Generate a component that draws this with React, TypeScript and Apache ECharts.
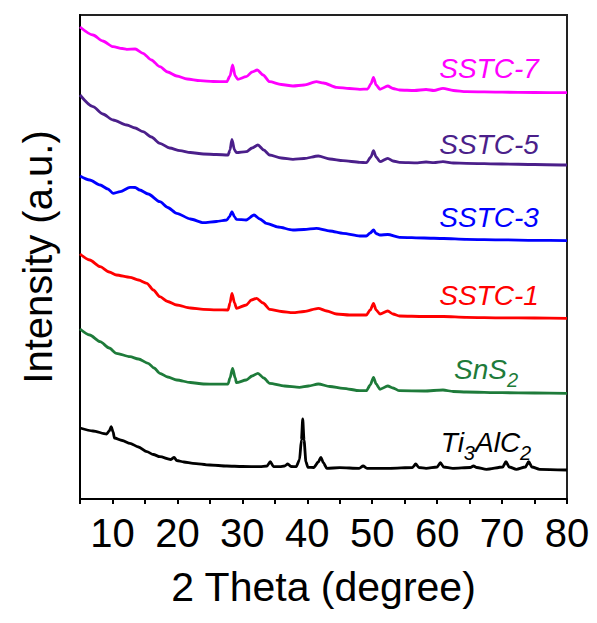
import React, { useEffect, useRef } from 'react';
import * as echarts from 'echarts';

// 2θ (degree) vs intensity (a.u., already stacked with offsets as drawn)
const sstc7: number[][] = [
  [5.0, 472], [7.0, 464], [8.5, 458], [10.1, 452.3], [11.5, 450.5], [12.2, 449.7], [13.5, 450], [14.7, 445.7],
  [16.0, 439], [17.3, 432.3], [18.5, 427], [19.9, 423], [21.5, 420], [23.5, 418.3], [25.5, 417.5], [27.6, 417.3],
  [28.1, 423], [28.5, 434], [28.9, 423], [29.3, 419.7], [30.6, 422.3], [31.5, 427], [32.3, 429], [33.2, 424],
  [34.2, 417.3], [36.0, 414.5], [37.8, 413], [39.5, 414], [41.4, 417.3], [42.5, 416], [44.5, 411.7], [46.5, 410.5],
  [48.1, 409.7], [49.3, 410], [49.8, 415], [50.2, 421.7], [50.6, 414], [51.2, 409.7], [52.4, 413], [53.2, 410.5],
  [54.2, 409], [56.5, 408.5], [58.3, 409.5], [59.5, 408.5], [60.9, 410.7], [62.5, 408.5], [64.5, 407.3],
  [70, 406.8], [75, 406.5], [80, 406.3],
];
const sstc5: number[][] = [
  [5.0, 404], [7.0, 392.3], [8.5, 385], [10.1, 379], [12.2, 374], [13.5, 371], [14.7, 367.3], [16.0, 362],
  [17.3, 355.7], [18.8, 351], [20.4, 348.3], [22, 346.5], [24, 345], [26, 344.5], [27.8, 344], [28.1, 349],
  [28.4, 359.7], [28.8, 349], [29.1, 346.3], [30.6, 347.3], [31.5, 351], [32.4, 354], [33.3, 349], [34.2, 344],
  [36, 341], [37.8, 339.7], [39.5, 340.5], [41.7, 343], [43.5, 340], [45.5, 338.3], [48.1, 336.7], [49.1, 336.3],
  [49.8, 342], [50.2, 348.3], [50.6, 342], [51.2, 337.3], [52.4, 340.7], [53.2, 338], [54.2, 336.7], [57, 336.2],
  [58.3, 337], [59.5, 336.3], [60.9, 337.3], [62.5, 336], [64.5, 335.7], [70, 335], [75, 334.5], [80, 334],
];
const sstc3: number[][] = [
  [5.0, 323], [6.5, 319], [8.1, 314], [9.3, 310], [10.1, 305.7], [11.2, 307.3], [12.7, 311.7], [13.5, 311.5],
  [14.2, 309], [15.5, 305], [17.3, 297.3], [18.5, 291.5], [19.9, 285.7], [22, 280], [24, 276.3], [26, 277.5],
  [27.6, 279], [28.0, 282], [28.4, 287.3], [28.8, 282], [29.1, 279.7], [30.6, 279], [31.8, 284], [32.7, 280],
  [33.7, 275.7], [35.5, 272], [37.8, 269], [39.5, 269.5], [41.4, 270.7], [43.5, 268], [45.5, 265.7], [48.1, 263],
  [49.1, 263], [49.7, 266], [50.2, 269], [50.6, 265.5], [51.2, 264], [52.4, 264.5], [54.2, 261.7], [58, 261],
  [61, 260.5], [64.5, 259.7], [70, 259.2], [75, 258.7], [80, 258.3],
];
const sstc1: number[][] = [
  [5.0, 245], [6.5, 239], [8.1, 232.3], [9.5, 227], [10.6, 224], [12.7, 221.7], [14.0, 219], [15.3, 215.7],
  [16.3, 209], [17.3, 202.3], [18.5, 197.5], [19.9, 194], [22, 191], [24, 189.7], [26, 189.2], [27.8, 189],
  [28.1, 196], [28.4, 205.7], [28.8, 196], [29.1, 190.7], [30.6, 194], [31.4, 199], [32.2, 200.7], [33.2, 196],
  [34.2, 189.7], [36, 187.5], [37.8, 186.3], [39.5, 187.5], [41.7, 190.7], [43, 188], [44.5, 185], [46.5, 184],
  [49.1, 184], [49.7, 189], [50.2, 195.7], [50.6, 189], [51.2, 185], [52.4, 188], [53.2, 185], [54.2, 183],
  [58, 182.5], [61, 182.5], [64.5, 181.7], [70, 181.2], [75, 181], [80, 180.7],
];
const sns2: number[][] = [
  [5.0, 170], [6.5, 164], [8.1, 157.3], [9.5, 151], [10.6, 145.7], [12.7, 142.3], [14.0, 140], [15.5, 135.7],
  [16.4, 131], [17.3, 125.7], [18.5, 122], [19.9, 119], [22, 116.5], [24, 115], [26, 114.8], [27.8, 115],
  [28.1, 121], [28.5, 130.7], [28.9, 121], [29.1, 116.3], [30.6, 119], [31.5, 123], [32.4, 125.7], [33.3, 121],
  [34.2, 115.7], [36.5, 113], [38.8, 111.7], [40.2, 113], [41.7, 115], [43.5, 112.5], [45.5, 110.7], [48.1, 108.3],
  [49.1, 108.3], [49.7, 114], [50.2, 121.7], [50.6, 115], [51.2, 109.7], [52.4, 113], [53.2, 111], [54.2, 108.3],
  [58, 108], [60.9, 109], [62.5, 107.5], [64.5, 107], [70, 106.3], [75, 106], [80, 105.7],
];
const ti3alc2: number[][] = [
  [5.0, 71], [7.0, 68], [9.1, 65], [9.5, 68], [9.8, 72.3], [10.1, 67], [10.3, 61], [11.5, 58.5], [12.7, 55.7],
  [14.0, 52], [15.3, 47.3], [16.3, 44.5], [17.3, 42.3], [19.0, 39.5], [19.5, 41.7], [19.9, 38.5], [21, 37],
  [22.4, 35.7], [25, 34], [27.6, 33], [30, 32.5], [32.7, 32.3], [33.8, 33], [34.3, 37.3], [34.8, 32.5],
  [35.8, 32.3], [36.5, 33], [37.0, 35], [37.5, 32.5], [38.3, 32.3], [38.8, 39], [39.1, 59], [39.3, 80],
  [39.5, 59], [39.8, 37], [40.1, 31.7], [41.0, 31.5], [41.7, 37], [42.1, 41.7], [42.5, 36], [43.0, 30.7],
  [45, 31.3], [48.0, 30.7], [48.6, 33], [49.2, 30.7], [52.7, 30.7], [56.2, 31.5], [56.7, 35], [57.2, 31.5],
  [58.3, 30.7], [60.0, 32], [60.5, 36.3], [61.0, 32], [62.4, 30.7], [65.1, 31.5], [65.6, 33], [66.1, 31.5],
  [67.6, 29.7], [70.1, 32], [70.6, 37.3], [71.1, 32], [72.2, 29.7], [73.6, 32], [74.1, 37.3], [74.6, 32],
  [75.8, 29.7], [80, 29],
];

const seriesNames = ['SSTC-7', 'SSTC-5', 'SSTC-3', 'SSTC-1', 'SnS2', 'Ti3AlC2'];
const seriesColors = ['#ff00ff', '#4b1f8a', '#0000ff', '#ff0000', '#1e7b3a', '#000000'];
const seriesData = [sstc7, sstc5, sstc3, sstc1, sns2, ti3alc2];

const FONT = '"Liberation Sans", Arial, sans-serif';

export default function App() {
  const ref = useRef<HTMLDivElement>(null);
  useEffect(() => {
    const chart = echarts.init(ref.current!, null, { renderer: 'svg' });
    const plainLabel = (text: string, color: string, y: number) => ({
      type: 'text',
      x: 489,
      y,
      style: {
        text,
        fill: color,
        font: `italic 28px ${FONT}`,
        textAlign: 'center',
        textVerticalAlign: 'middle',
      },
    });
    const richLabel = (text: string, color: string, yTop: number) => ({
      type: 'text',
      x: 486,
      y: yTop,
      style: {
        text,
        fill: color,
        textAlign: 'center',
        textVerticalAlign: 'top',
        rich: {
          m: { fill: color, fontSize: 28, fontStyle: 'italic', fontFamily: FONT, lineHeight: 28, verticalAlign: 'top' },
          s: { fill: color, fontSize: 20, fontStyle: 'italic', fontFamily: FONT, lineHeight: 35, verticalAlign: 'bottom' },
        },
      },
    });
    const option: any = {
      animation: false,
      backgroundColor: '#ffffff',
      grid: {
        left: 80, right: 30, top: 15, bottom: 124,
        show: true, borderColor: '#222', borderWidth: 2, backgroundColor: 'transparent',
      },
      xAxis: {
        type: 'value',
        min: 5,
        max: 80,
        interval: 5,
        name: '2 Theta (degree)',
        nameLocation: 'middle',
        nameGap: 67,
        nameTextStyle: { fontSize: 41, color: '#000', fontFamily: FONT },
        axisLine: { show: true, onZero: false, lineStyle: { color: '#000', width: 2 } },
        axisTick: { show: true, inside: false, length: 5, lineStyle: { color: '#000', width: 2 } },
        axisLabel: {
          fontSize: 40, color: '#000', fontFamily: FONT, margin: 14,
          formatter: (v: number) => (v % 10 === 0 ? String(v) : ''),
        },
        splitLine: { show: false },
      },
      yAxis: {
        type: 'value',
        min: 0,
        max: 484,
        name: 'Intensity (a.u.)',
        nameLocation: 'middle',
        nameGap: 22,
        nameTextStyle: { fontSize: 40, color: '#000', fontFamily: FONT },
        axisLine: { show: true, lineStyle: { color: '#000', width: 2 } },
        axisTick: { show: false },
        axisLabel: { show: false },
        splitLine: { show: false },
      },
      series: seriesData.map((d, i) => ({
        name: seriesNames[i],
        type: 'line',
        data: d,
        showSymbol: false,
        symbol: 'none',
        smooth: 0.25,
        smoothMonotone: 'x',
        lineStyle: { color: seriesColors[i], width: 2.8, join: 'round' },
        itemStyle: { color: seriesColors[i] },
        z: 2,
      })),
      graphic: [
        plainLabel('SSTC-7', seriesColors[0], 68),
        plainLabel('SSTC-5', seriesColors[1], 144),
        plainLabel('SSTC-3', seriesColors[2], 217),
        plainLabel('SSTC-1', seriesColors[3], 295),
        richLabel('{m|SnS}{s|2}', seriesColors[4], 355),
        richLabel('{m|Ti}{s|3}{m|AlC}{s|2}', seriesColors[5], 428),
      ],
    };
    chart.setOption(option);
    return () => chart.dispose();
  }, []);
  return (
    <div
      ref={ref}
      style={{ position: 'absolute', left: 0, top: 0, width: 597, height: 623 }}
    />
  );
}
